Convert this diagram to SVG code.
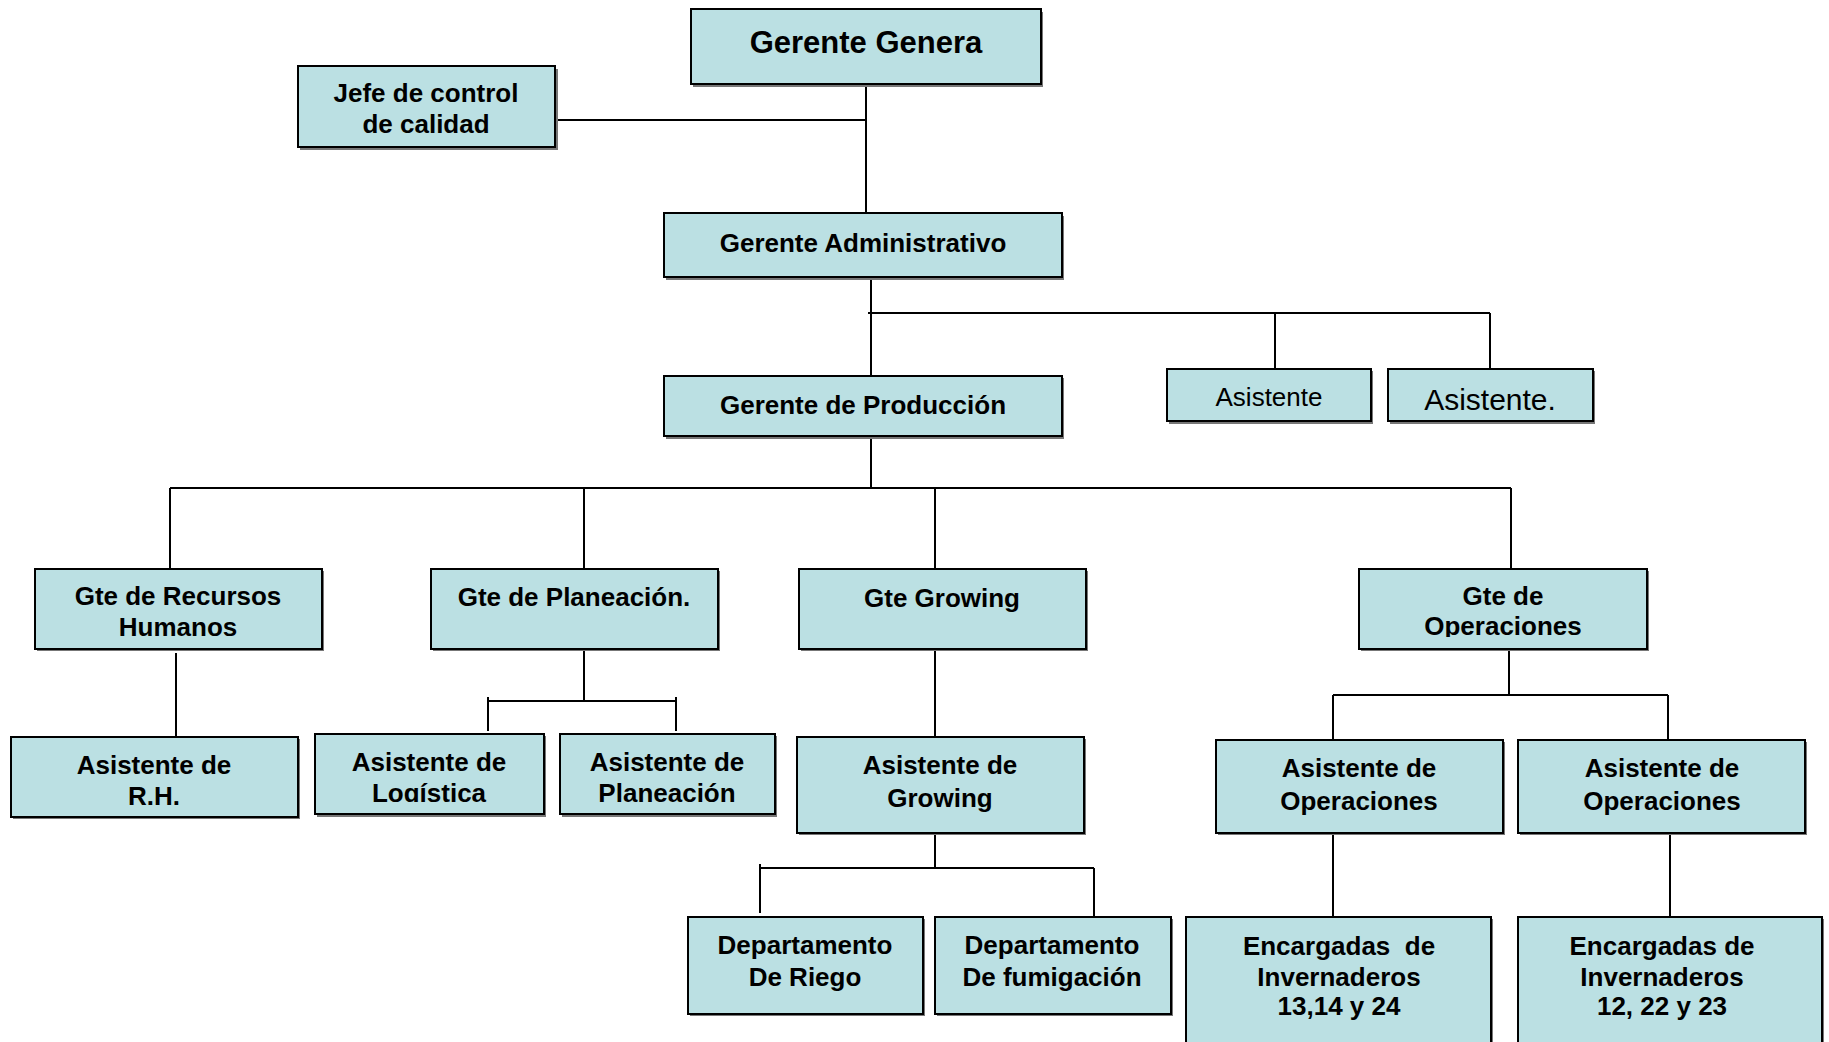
<svg xmlns="http://www.w3.org/2000/svg" width="1829" height="1042" viewBox="0 0 1829 1042">
<defs>
<style>
.box{fill:#BBE0E3;stroke:#000;stroke-width:2}
.sh{fill:#777}
.t{font-family:"Liberation Sans",Arial,sans-serif;font-weight:bold;font-size:26px;fill:#000;text-anchor:middle}
.r{font-weight:normal}
.c{fill:none;stroke:#000;stroke-width:2}
</style>
<clipPath id="clipOp"><rect x="1359" y="569" width="288" height="68"/></clipPath>
<clipPath id="clipLog"><rect x="315" y="734" width="229" height="68"/></clipPath>
</defs>
<rect width="1829" height="1042" fill="#fff"/>
<g id="connectors">
<path class="c" d="M866 84V213M555 120H866"/>
<path class="c" d="M871 278V376M868 313H1490M1275 313V368M1490 313V368"/>
<path class="c" d="M871 436V488M170 488H1511M170 488V569M584 488V569M935 488V569M1511 488V569"/>
<path class="c" d="M176 653V736"/>
<path class="c" d="M584 649V701M488 701H676M488 697V731M676 697V731"/>
<path class="c" d="M935 649V736"/>
<path class="c" d="M1509 649V695M1333 695H1668M1333 695V740M1668 695V740"/>
<path class="c" d="M935 833V868M760 868H1094M760 864V913M1094 868V916"/>
<path class="c" d="M1333 833V917"/>
<path class="c" d="M1670 833V917"/>
</g>
<g id="gerente-general">
<rect class="sh" x="693" y="12" width="350" height="75"/>
<rect class="box" x="691" y="9" width="350" height="75"/>
<text class="t" x="866" y="53" style="font-size:31px">Gerente Genera</text>
</g>
<g id="jefe-calidad">
<rect class="sh" x="300" y="69" width="258" height="81"/>
<rect class="box" x="298" y="66" width="257" height="81"/>
<text class="t" x="426" y="102">Jefe de control</text>
<text class="t" x="426" y="133">de calidad</text>
</g>
<g id="gerente-administrativo">
<rect class="sh" x="666" y="216" width="398" height="64"/>
<rect class="box" x="664" y="213" width="398" height="64"/>
<text class="t" x="863" y="252">Gerente Administrativo</text>
</g>
<g id="gerente-produccion">
<rect class="sh" x="666" y="378" width="398" height="61"/>
<rect class="box" x="664" y="376" width="398" height="60"/>
<text class="t" x="863" y="414">Gerente de Producción</text>
</g>
<g id="asistente-1">
<rect class="sh" x="1169" y="371" width="204" height="53"/>
<rect class="box" x="1167" y="369" width="204" height="52"/>
<text class="t r" x="1269" y="406">Asistente</text>
</g>
<g id="asistente-2">
<rect class="sh" x="1390" y="371" width="205" height="53"/>
<rect class="box" x="1388" y="369" width="205" height="52"/>
<text class="t r" x="1490" y="410" style="font-size:30px">Asistente.</text>
</g>
<g id="gte-rh">
<rect class="sh" x="37" y="571" width="287" height="80"/>
<rect class="box" x="35" y="569" width="287" height="80"/>
<text class="t" x="178" y="605">Gte de Recursos</text>
<text class="t" x="178" y="636">Humanos</text>
</g>
<g id="gte-planeacion">
<rect class="sh" x="433" y="571" width="287" height="80"/>
<rect class="box" x="431" y="569" width="287" height="80"/>
<text class="t" x="574" y="606">Gte de Planeación.</text>
</g>
<g id="gte-growing">
<rect class="sh" x="801" y="571" width="287" height="80"/>
<rect class="box" x="799" y="569" width="287" height="80"/>
<text class="t" x="942" y="607">Gte Growing</text>
</g>
<g id="gte-operaciones">
<rect class="sh" x="1361" y="571" width="288" height="80"/>
<rect class="box" x="1359" y="569" width="288" height="80"/>
<text class="t" x="1503" y="605">Gte de</text>
<text class="t" x="1503" y="635" clip-path="url(#clipOp)">Operaciones</text>
</g>
<g id="asistente-rh">
<rect class="sh" x="13" y="739" width="287" height="80"/>
<rect class="box" x="11" y="737" width="287" height="80"/>
<text class="t" x="154" y="774">Asistente de</text>
<text class="t" x="154" y="805">R.H.</text>
</g>
<g id="asistente-logistica">
<rect class="sh" x="317" y="736" width="229" height="81"/>
<rect class="box" x="315" y="734" width="229" height="80"/>
<text class="t" x="429" y="771">Asistente de</text>
<text class="t" x="429" y="802" clip-path="url(#clipLog)">Logística</text>
</g>
<g id="asistente-planeacion">
<rect class="sh" x="562" y="736" width="215" height="81"/>
<rect class="box" x="560" y="734" width="215" height="80"/>
<text class="t" x="667" y="771">Asistente de</text>
<text class="t" x="667" y="802">Planeación</text>
</g>
<g id="asistente-growing">
<rect class="sh" x="799" y="739" width="287" height="96"/>
<rect class="box" x="797" y="737" width="287" height="96"/>
<text class="t" x="940" y="774">Asistente de</text>
<text class="t" x="940" y="807">Growing</text>
</g>
<g id="asistente-operaciones-1">
<rect class="sh" x="1218" y="742" width="287" height="93"/>
<rect class="box" x="1216" y="740" width="287" height="93"/>
<text class="t" x="1359" y="777">Asistente de</text>
<text class="t" x="1359" y="810">Operaciones</text>
</g>
<g id="asistente-operaciones-2">
<rect class="sh" x="1520" y="742" width="287" height="93"/>
<rect class="box" x="1518" y="740" width="287" height="93"/>
<text class="t" x="1662" y="777">Asistente de</text>
<text class="t" x="1662" y="810">Operaciones</text>
</g>
<g id="depto-riego">
<rect class="sh" x="690" y="919" width="235" height="97"/>
<rect class="box" x="688" y="917" width="235" height="97"/>
<text class="t" x="805" y="954">Departamento</text>
<text class="t" x="805" y="986">De Riego</text>
</g>
<g id="depto-fumigacion">
<rect class="sh" x="937" y="919" width="236" height="97"/>
<rect class="box" x="935" y="917" width="236" height="97"/>
<text class="t" x="1052" y="954">Departamento</text>
<text class="t" x="1052" y="986">De fumigación</text>
</g>
<g id="encargadas-1">
<rect class="sh" x="1188" y="919" width="305" height="140"/>
<rect class="box" x="1186" y="917" width="305" height="140"/>
<text class="t" x="1339" y="955" xml:space="preserve">Encargadas  de</text>
<text class="t" x="1339" y="986">Invernaderos</text>
<text class="t" x="1339" y="1015">13,14 y 24</text>
</g>
<g id="encargadas-2">
<rect class="sh" x="1520" y="919" width="304" height="140"/>
<rect class="box" x="1518" y="917" width="304" height="140"/>
<text class="t" x="1662" y="955">Encargadas de</text>
<text class="t" x="1662" y="986">Invernaderos</text>
<text class="t" x="1662" y="1015">12, 22 y 23</text>
</g>
</svg>
